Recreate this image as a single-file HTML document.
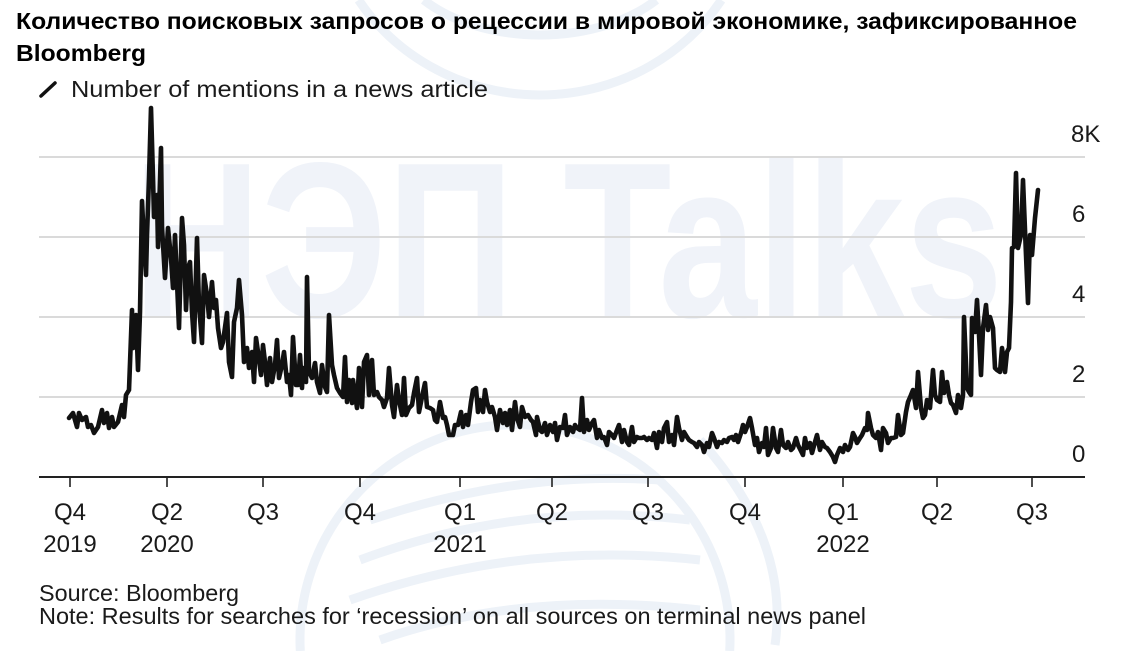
<!DOCTYPE html>
<html>
<head>
<meta charset="utf-8">
<style>
html,body{margin:0;padding:0;background:#fff;width:1129px;height:651px;overflow:hidden;}
svg{display:block;}
</style>
</head>
<body>
<svg width="1129" height="651" viewBox="0 0 1129 651" xmlns="http://www.w3.org/2000/svg">
<rect width="1129" height="651" fill="#fff"/>
<!-- watermark globes -->
<g fill="none" stroke="#edf2f8" stroke-width="9">
  <path d="M358.6,0 A215,205 0 0 0 721.4,0"/>
  <path d="M423.7,0 A150,95 0 0 0 656.3,0"/>
  <path d="M300.3,651 A215,215 0 1 1 729.7,651"/>
  <path d="M360 560 Q520 500 690 520"/>
  <path d="M350 600 Q520 540 700 560"/>
  <path d="M370 520 Q520 470 660 480"/>
  <path d="M380 640 Q520 590 700 610"/>
  <path d="M700 440 Q790 540 775 645"/>
</g>
<!-- watermark text -->
<text x="133" y="317" font-family="Liberation Sans, sans-serif" font-weight="bold" font-size="222" fill="#f0f3f9" textLength="870" lengthAdjust="spacingAndGlyphs">НЭП Talks</text>

<!-- title -->
<text x="16" y="29" font-family="Liberation Sans, 'Noto Sans CJK SC', sans-serif" font-weight="bold" font-size="23" fill="#000" textLength="1061" lengthAdjust="spacingAndGlyphs">Количество поисковых запросов о рецессии в мировой экономике, зафиксированное</text>
<text x="16" y="61" font-family="Liberation Sans, sans-serif" font-weight="bold" font-size="23" fill="#000" textLength="130" lengthAdjust="spacingAndGlyphs">Bloomberg</text>

<!-- legend -->
<line x1="41" y1="96" x2="55" y2="83" stroke="#111" stroke-width="3.5" stroke-linecap="round"/>
<text x="71" y="97" font-family="Liberation Sans, sans-serif" font-size="23" fill="#1a1a1a" textLength="417" lengthAdjust="spacingAndGlyphs">Number of mentions in a news article</text>

<!-- gridlines -->
<g stroke="#dadada" stroke-width="2">
  <line x1="39" y1="157" x2="1085" y2="157"/>
  <line x1="39" y1="237" x2="1085" y2="237"/>
  <line x1="39" y1="317" x2="1085" y2="317"/>
  <line x1="39" y1="397" x2="1085" y2="397"/>
</g>

<!-- y labels -->
<g font-family="Liberation Sans, sans-serif" font-size="24" fill="#1a1a1a">
  <text x="1071" y="142">8K</text>
  <text x="1072" y="222">6</text>
  <text x="1072" y="302">4</text>
  <text x="1072" y="382">2</text>
  <text x="1072" y="462">0</text>
</g>

<!-- axis -->
<line x1="39" y1="477" x2="1085" y2="477" stroke="#222" stroke-width="2"/>
<g stroke="#222" stroke-width="1.6">
  <line x1="70" y1="477" x2="70" y2="487"/>
  <line x1="167" y1="477" x2="167" y2="487"/>
  <line x1="263" y1="477" x2="263" y2="487"/>
  <line x1="360" y1="477" x2="360" y2="487"/>
  <line x1="460" y1="477" x2="460" y2="487"/>
  <line x1="552" y1="477" x2="552" y2="487"/>
  <line x1="648" y1="477" x2="648" y2="487"/>
  <line x1="745" y1="477" x2="745" y2="487"/>
  <line x1="843" y1="477" x2="843" y2="487"/>
  <line x1="937" y1="477" x2="937" y2="487"/>
  <line x1="1032" y1="477" x2="1032" y2="487"/>
</g>
<g font-family="Liberation Sans, sans-serif" font-size="24" fill="#1a1a1a" text-anchor="middle">
  <text x="70" y="520">Q4</text>
  <text x="70" y="552">2019</text>
  <text x="167" y="520">Q2</text>
  <text x="167" y="552">2020</text>
  <text x="263" y="520">Q3</text>
  <text x="360" y="520">Q4</text>
  <text x="460" y="520">Q1</text>
  <text x="460" y="552">2021</text>
  <text x="552" y="520">Q2</text>
  <text x="648" y="520">Q3</text>
  <text x="745" y="520">Q4</text>
  <text x="843" y="520">Q1</text>
  <text x="843" y="552">2022</text>
  <text x="937" y="520">Q2</text>
  <text x="1032" y="520">Q3</text>
</g>

<!-- series -->
<polyline fill="none" stroke="#111" stroke-width="4.6" stroke-linejoin="round" stroke-linecap="round" points="
69,418 73,413 77,427 79,413 82,420 86,417 88,427 91,425 94,433 98,427 102,410 104,423 107,413 109,428 112,417 114,427 118,422 122,405 124,417 126,395 129,390 132,310 133,348 136,315 138,370 140,312 142,201 144,242 146,275 147,235 149,178 151,108 153,178 154,217 157,195 158,247 161,148 162,227 165,278 168,228 171,258 173,288 175,235 177,282 179,328 182,218 184,245 186,310 188,268 190,262 192,312 194,342 197,238 199,305 202,343 204,275 207,295 209,317 212,282 214,308 216,300 218,328 221,348 223,342 227,313 229,362 232,377 234,322 237,308 239,280 242,315 244,362 247,348 249,368 252,352 254,382 256,338 258,352 261,375 263,345 265,362 267,385 270,358 272,382 275,365 277,340 279,378 282,365 284,352 287,382 289,375 291,395 293,337 296,385 298,385
300,355 302,388 303,368 306,382 307,277 309,372 312,378 315,363 317,382 320,393 322,365 325,387 327,392 329,315 332,365 334,375 337,388 340,393 343,397 345,357 347,402 349,380 352,403 353,380 357,408 359,368 362,407 364,362 367,355 369,395 372,360 374,395 377,392 379,397 382,400 384,407 387,398 389,368 392,405 394,417 397,385 399,400 402,415 404,378 406,415 409,408 412,405 414,393 417,378 419,412 422,397 425,383 427,407 430,408 433,410 435,420 437,422 440,402 443,418 445,417 447,425 449,435 453,435 455,425 458,425 461,412 463,427 466,415 468,425 471,402 473,390 476,388 478,412 480,400 483,412 485,390 487,402 490,412 492,407 495,417 497,430 500,410 503,423 505,413 507,425 510,410 512,430 515,402 517,418 520,427 522,407 525,417 528,415 531,420 533,422 536,435 537,417 540,430 542,432 545,423 547,435
550,425 553,432 555,423 557,440 560,427 563,428 565,415 567,435 570,427 573,432 575,425 577,428 580,430 582,398 584,432 587,420 589,430 592,423 594,420 597,438 599,430 602,438 604,437 607,445 609,432 612,435 614,438 617,430 619,425 622,442 624,430 627,442 629,445 632,427 634,442 637,437 639,438 642,438 644,437 647,440 649,438 652,440 654,433 657,448 659,432 662,442 664,428 667,422 669,442 672,435 674,445 677,417 679,428 682,440 684,432 687,437 689,440 692,442 694,443 697,447 699,442 702,445 704,452 707,443 709,447 712,433 714,438 717,447 719,442 722,443 724,440 727,442 729,438 732,437 734,440 736,435 738,442 741,433 743,425 745,432 747,427 750,418 752,428 755,445 757,438 759,452 762,443 764,447 766,428 768,455 771,448 773,428 776,448 778,452 781,430 783,445 786,448 788,442 791,450 793,448 796,438 798,445
803,455 805,438 807,448 810,443 812,453 815,442 817,435 820,450 822,442 825,447 827,448 830,452 833,457 835,462 837,455 840,448 843,452 845,445 848,450 850,447 853,433 855,437 857,443 860,438 862,435 865,428 867,430 868,413 871,428 873,435 876,438 878,432 881,450 883,428 886,433 888,443 891,438 893,438 896,437 898,415 901,435 903,433 906,412 908,402 911,395 913,390 916,408 918,372 921,408 923,418 925,415 927,400 930,408 933,370 935,395 937,400 940,402 942,372 944,393 947,382 949,395 951,403 953,405 956,413 958,395 961,408 963,395 964,317 967,388 969,392 971,395 972,318 975,332 977,300 979,335 981,375 983,328 986,305 988,330 990,317 993,328 995,368 997,370 1000,372 1002,348 1005,372 1007,352 1009,348 1011,302 1012,248 1014,247 1016,173 1018,248 1021,235 1023,180 1026,255 1028,303 1030,235 1032,255 1035,218 1038,190"/>

<!-- footer -->
<text x="39" y="601" font-family="Liberation Sans, sans-serif" font-size="23" fill="#1a1a1a" textLength="200" lengthAdjust="spacingAndGlyphs">Source: Bloomberg</text>
<text x="39" y="624" font-family="Liberation Sans, sans-serif" font-size="23" fill="#1a1a1a" textLength="827" lengthAdjust="spacingAndGlyphs">Note: Results for searches for ‘recession’ on all sources on terminal news panel</text>
</svg>
</body>
</html>
